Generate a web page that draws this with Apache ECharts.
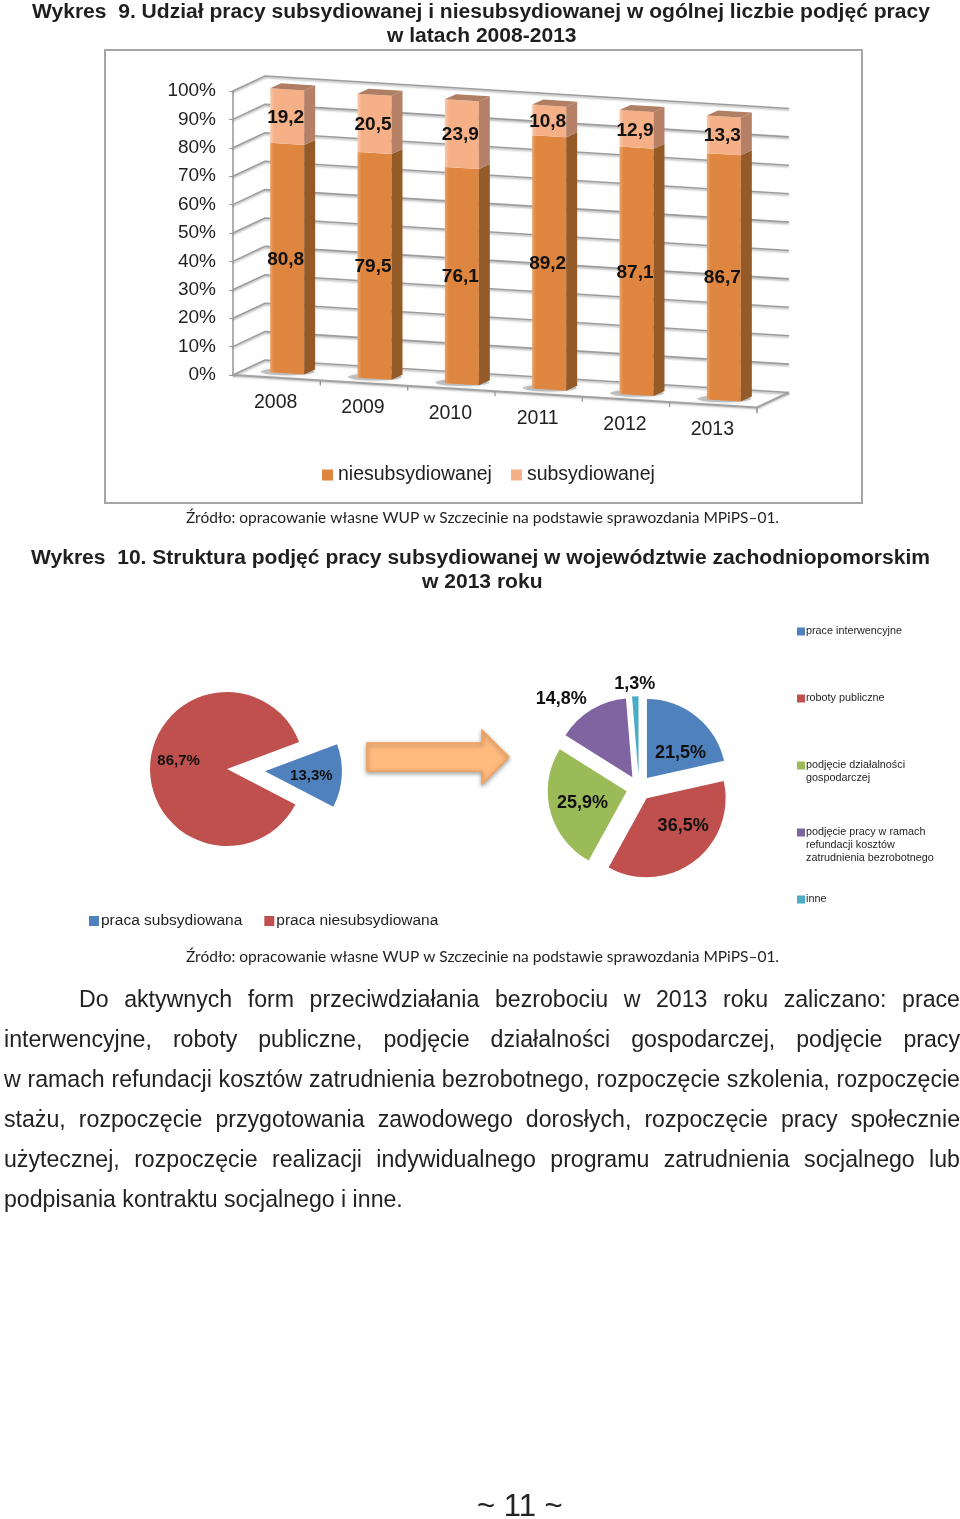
<!DOCTYPE html>
<html lang="pl">
<head>
<meta charset="utf-8">
<title>Wykres 9 i 10</title>
<script src="https://cdn.jsdelivr.net/npm/echarts@6/dist/echarts.min.js"></script>
<style>
html,body{margin:0;padding:0;background:#fff;}
#wrap{position:relative;width:960px;height:1519px;overflow:hidden;}
#chart{position:absolute;left:0;top:0;width:960px;height:1519px;}
#body{position:absolute;left:4px;top:979px;width:956px;font:23.15px/40px "Liberation Sans",Arial,sans-serif;color:#222;}
#body div{text-align:justify;text-align-last:justify;white-space:nowrap;}
#body div.first{text-indent:75px;}
#body div.last{text-align-last:left;}
#page{position:absolute;left:477px;top:1488px;font:31px/36px "Liberation Sans",Arial,sans-serif;color:#222;}
</style>
</head>
<body>
<div id="wrap">
<div id="chart"></div>
<div id="body">
<div class="first">Do aktywnych form przeciwdziałania bezrobociu w 2013 roku zaliczano: prace</div>
<div>interwencyjne, roboty publiczne, podjęcie działalności gospodarczej, podjęcie pracy</div>
<div>w ramach refundacji kosztów zatrudnienia bezrobotnego, rozpoczęcie szkolenia, rozpoczęcie</div>
<div>stażu, rozpoczęcie przygotowania zawodowego dorosłych, rozpoczęcie pracy społecznie</div>
<div>użytecznej, rozpoczęcie realizacji indywidualnego programu zatrudnienia socjalnego lub</div>
<div class="last">podpisania kontraktu socjalnego i inne.</div>
</div>
<div id="page">~ 11 ~</div>
</div>
<script>
// ---- data ----
const years = ['2008', '2009', '2010', '2011', '2012', '2013'];
const niesubsydiowanej = [80.8, 79.5, 76.1, 89.2, 87.1, 86.7];
const subsydiowanej = [19.2, 20.5, 23.9, 10.8, 12.9, 13.3];
const percentTicks = [0, 10, 20, 30, 40, 50, 60, 70, 80, 90, 100];

const shareNames = ['praca subsydiowana', 'praca niesubsydiowana'];
const shareValues = [13.3, 86.7];

const structureNames = [
  'prace interwencyjne',
  'roboty publiczne',
  'podjęcie działalności\ngospodarczej',
  'podjęcie pracy w ramach\nrefundacji kosztów\nzatrudnienia bezrobotnego',
  'inne'
];
const structureValues = [21.5, 36.5, 25.9, 14.8, 1.3];

// ---- style ----
const FONT = '"Liberation Sans", Arial, sans-serif';
const INK = '#1f1f1f';
const skew = 0.062, depthX = 32, depthY = -15;
const barL = -6.5, barR = 27.5, barDX = 11, barDY = -5, floorGap = -5;
const structureColors = ['#4F81BD', '#C0504D', '#9BBB59', '#8064A2', '#4BACC6'];
const shareNudges = [[5, 2], [-7, -6]];
const structureNudges = [[7, 8], [11, -6], [-3, 1], [-49, -42], [-2, -49]];
const legendTops = [625, 692, 759, 826, 893];

const comma = v => v.toFixed(1).replace('.', ',');
const pct = p => comma(p.value) + '%';
const nudge = table => p => ({ dx: table[p.dataIndex][0], dy: table[p.dataIndex][1] });

function skewY(x, y, left) { return y + skew * (x - left); }

function wallItem(params, api) {
  const g = params.coordSys;
  const p = api.coord([0, api.value(1)]);
  const y = p[1], x0 = g.x, x1 = x0 + depthX, x2 = x0 + g.width + depthX;
  const y1 = y + depthY, y2 = skewY(x2, y1, x1);
  const lineStyle = {
    stroke: '#9c9c9c', lineWidth: 1.6, fill: 'none',
    shadowColor: 'rgba(0,0,0,0.3)', shadowBlur: 2, shadowOffsetY: 1.5
  };
  return { type: 'polyline', shape: { points: [[x0, y], [x1, y1], [x2, y2]] }, style: lineStyle };
}

function floorItem(params, api) {
  const g = params.coordSys, i = api.value(0);
  const p = api.coord([i, 0]);
  const band = api.size([1, 0])[0];
  const bx = p[0] + band / 2, by = skewY(bx, p[1], g.x);
  const kids = [
    { type: 'line', shape: { x1: bx, y1: by, x2: bx, y2: by + 5 }, style: { stroke: '#9c9c9c', lineWidth: 1.3 } },
    { type: 'text', style: { text: years[i], x: p[0] - 1, y: skewY(p[0], p[1], g.x) + 25, align: 'center', verticalAlign: 'middle', font: '19.5px ' + FONT, fill: INK } },
    { type: 'ellipse', shape: { cx: p[0] + 11, cy: skewY(p[0], p[1], g.x) + floorGap - 1, rx: 27, ry: 3.5 }, style: { fill: 'rgba(130,130,130,0.45)', shadowColor: 'rgba(130,130,130,0.5)', shadowBlur: 5 } }
  ];
  if (i === 0) {
    const lx = g.x, rx = g.x + g.width;
    const ly = p[1], ry = skewY(rx, p[1], g.x);
    kids.push({ type: 'polyline', shape: { points: [[lx, ly], [rx, ry], [rx + depthX, ry + depthY]] }, style: { stroke: '#a2a2a2', lineWidth: 2, fill: 'none', shadowColor: 'rgba(0,0,0,0.25)', shadowBlur: 2, shadowOffsetY: 1 } });
    kids.push({ type: 'line', shape: { x1: rx, y1: ry, x2: rx, y2: ry + 6 }, style: { stroke: '#9c9c9c', lineWidth: 1.3 } });
  }
  return { type: 'group', children: kids };
}

function barRenderer(front, side, topFace, isTop) {
  return function (params, api) {
    const g = params.coordSys, i = api.value(0);
    const a = api.coord([i, api.value(1)]), b = api.coord([i, api.value(2)]);
    const xl = a[0] + barL, xr = a[0] + barR;
    const yy = (x, y) => skewY(x, y, g.x) + floorGap;
    const lb = [xl, yy(xl, a[1])], rb = [xr, yy(xr, a[1])];
    const lt = [xl, yy(xl, b[1])], rt = [xr, yy(xr, b[1])];
    const off = q => [q[0] + barDX, q[1] + barDY];
    const kids = [
      { type: 'polygon', shape: { points: [lb, rb, rt, lt] }, style: { fill: new echarts.graphic.LinearGradient(0, 0, 1, 0, [{ offset: 0, color: front[0] }, { offset: 0.12, color: front[1] }, { offset: 1, color: front[1] }]) } },
      { type: 'polygon', shape: { points: [rb, off(rb), off(rt), rt] }, style: { fill: side } }
    ];
    if (isTop) {
      kids.push({ type: 'polygon', shape: { points: [lt, rt, off(rt), off(lt)] }, style: { fill: topFace } });
    }
    kids.push({ type: 'text', z2: 10, style: { text: comma(api.value(2) - api.value(1)), x: (xl + xr) / 2 - 1.5, y: (lt[1] + lb[1]) / 2 + 2, align: 'center', verticalAlign: 'middle', font: 'bold 19px ' + FONT, fill: '#111' } });
    return { type: 'group', children: kids };
  };
}

// icon whose swatch sits at the top of a box as tall as the text block
function swatchIcon(lines) {
  return lines > 1 ? 'path://M0,0H8V8H0Z M0,' + (8 + (lines - 1) * 13) + 'L0,' + (8 + (lines - 1) * 13) : 'rect';
}

const legends = [
  { data: ['niesubsydiowanej', 'subsydiowanej'], left: 322, top: 465, itemWidth: 11, itemHeight: 11, itemGap: 19, padding: 0, icon: 'rect', textStyle: { fontFamily: FONT, fontSize: 19.5, color: INK } },
  { data: shareNames, left: 89, top: 913, itemWidth: 10, itemHeight: 10, itemGap: 22, padding: 0, icon: 'rect', textStyle: { fontFamily: FONT, fontSize: 15.5, color: INK, padding: [0, 0, 0, -3] } }
];
structureNames.forEach((n, i) => {
  const lines = n.split('\n').length;
  legends.push({
    data: [{ name: n, icon: swatchIcon(lines) }],
    left: 797, top: legendTops[i], itemWidth: 8, itemHeight: 8 + (lines - 1) * 13, padding: 0,
    textStyle: { fontFamily: FONT, fontSize: 10.8, lineHeight: 13, color: INK, padding: [0, 0, 0, -4] }
  });
});

const titleStyle = { fontFamily: FONT, fontSize: 21.05, fontWeight: 'bold', color: INK };
const sourceStyle = { fontFamily: 'Lato', fontSize: 15.5, fontWeight: 'normal', color: INK };
const sourceText = 'Źródło: opracowanie własne WUP w Szczecinie na podstawie sprawozdania MPiPS–01.';

const option = {
  animation: false,
  backgroundColor: '#fff',
  title: [
    { text: 'Wykres  9. Udział pracy subsydiowanej i niesubsydiowanej w ogólnej liczbie podjęć pracy', left: 32, top: 2, padding: 0, textStyle: titleStyle },
    { text: 'w latach 2008-2013', left: 387, top: 26, padding: 0, textStyle: titleStyle },
    { text: 'Wykres  10. Struktura podjęć pracy subsydiowanej w województwie zachodniopomorskim', left: 31, top: 548, padding: 0, textStyle: titleStyle },
    { text: 'w 2013 roku', left: 422, top: 572, padding: 0, textStyle: titleStyle },
    { text: sourceText, left: 186, top: 510, padding: 0, textStyle: sourceStyle },
    { text: sourceText, left: 186, top: 949, padding: 0, textStyle: sourceStyle }
  ],
  legend: legends,
  grid: { left: 233, top: 91, width: 524, height: 284 },
  xAxis: { type: 'category', data: years, show: false },
  yAxis: {
    type: 'value', min: 0, max: 100, interval: 10,
    axisLine: { show: true, lineStyle: { color: '#9c9c9c', width: 1.6 } },
    axisTick: { show: true, length: 4, lineStyle: { color: '#9c9c9c' } },
    splitLine: { show: false },
    axisLabel: { margin: 17, padding: [2, 0, 0, 0], formatter: '{value}%', fontFamily: FONT, fontSize: 19, color: INK }
  },
  graphic: [
    { type: 'rect', z: -1, shape: { x: 105, y: 50, width: 757, height: 453 }, style: { fill: '#fff', stroke: '#a6a6a6', lineWidth: 2 } },
    {
      type: 'polygon', z: 5,
      shape: { points: [[367, 743], [482, 743], [482, 730], [509, 757], [482, 784], [482, 771], [367, 771]] },
      style: { fill: '#FFBA7E', stroke: '#F2A25C', lineWidth: 1.5, shadowColor: 'rgba(0,0,0,0.35)', shadowBlur: 4, shadowOffsetY: 2 }
    }
  ],
  series: [
    {
      type: 'custom', name: 'walls', z: 1, silent: true, clip: false,
      encode: { x: 0, y: 1 },
      data: percentTicks.map(t => [0, t]),
      renderItem: wallItem
    },
    {
      type: 'custom', name: 'floor', z: 1, silent: true, clip: false,
      encode: { x: 0, y: 1 },
      data: years.map((y, i) => [i, 0]),
      renderItem: floorItem
    },
    {
      type: 'custom', name: 'niesubsydiowanej', z: 3, clip: false,
      itemStyle: { color: '#DE853F' },
      encode: { x: 0, y: [1, 2] },
      data: niesubsydiowanej.map((v, i) => [i, 0, v]),
      renderItem: barRenderer(['#E9A26B', '#DE853F'], '#945A28', null, false)
    },
    {
      type: 'custom', name: 'subsydiowanej', z: 3, clip: false,
      itemStyle: { color: '#F5B088' },
      encode: { x: 0, y: [1, 2] },
      data: subsydiowanej.map((v, i) => [i, niesubsydiowanej[i], niesubsydiowanej[i] + v]),
      renderItem: barRenderer(['#F9CBAF', '#F5B088'], '#B58066', '#B07E62', true)
    },
    {
      type: 'pie', name: 'udział', center: [227, 769], radius: 77, startAngle: 20.5, clockwise: true,
      selectedMode: 'multiple', selectedOffset: 38, silent: true,
      label: { position: 'inside', formatter: pct, fontFamily: FONT, fontSize: 15, fontWeight: 'bold', color: '#111' },
      labelLine: { show: false },
      labelLayout: nudge(shareNudges),
      data: [
        { name: shareNames[0], value: shareValues[0], selected: true, itemStyle: { color: '#4F81BD' } },
        { name: shareNames[1], value: shareValues[1], itemStyle: { color: '#C0504D' } }
      ]
    },
    {
      type: 'pie', name: 'struktura', center: [639, 788], radius: 79, startAngle: 90, clockwise: true,
      selectedMode: 'multiple', selectedOffset: 12.7, silent: true,
      label: { position: 'inside', formatter: pct, fontFamily: FONT, fontSize: 18, fontWeight: 'bold', color: '#111' },
      labelLine: { show: false },
      labelLayout: nudge(structureNudges),
      data: structureNames.map((n, i) => ({
        name: n, value: structureValues[i], selected: true,
        itemStyle: { color: structureColors[i] }
      }))
    }
  ]
};

const chart = echarts.init(document.getElementById('chart'));
chart.setOption(option);
</script>
</body>
</html>
